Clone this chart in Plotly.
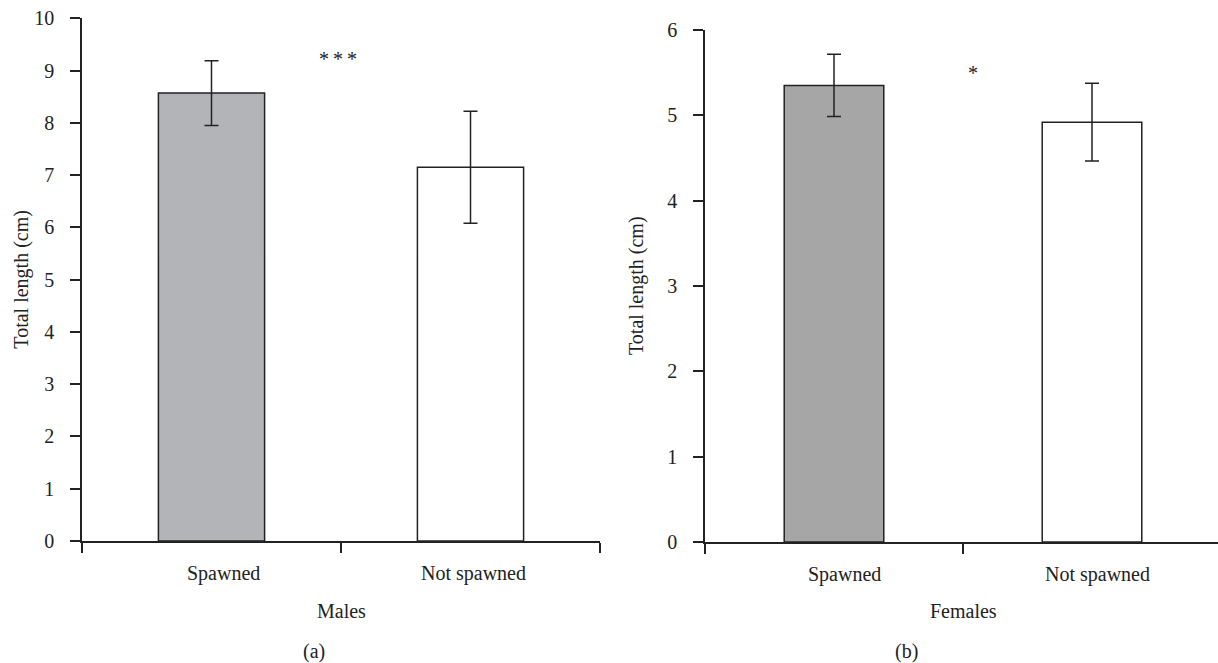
import plotly.graph_objects as go

# ---- data ----
groups = ["Spawned", "Not spawned"]
males_mean = [8.57, 7.15]
males_err = [0.62, 1.07]
females_mean = [5.35, 4.92]
females_err = [0.365, 0.455]
males_colors = ["#b3b4b7", "#ffffff"]
females_colors = ["#a6a6a6", "#ffffff"]
males_yticks = [0, 1, 2, 3, 4, 5, 6, 7, 8, 9, 10]
females_yticks = [0, 1, 2, 3, 4, 5, 6]
males_sig = "*\u2009*\u2009*"
females_sig = "*"
males_sig_pos = (0.99, 9.22)
females_sig_pos = (1.04, 5.50)
panel_titles = ["Males", "Females"]
panel_letters = ["(a)", "(b)"]
ytitle = "Total length (cm)"

W, H = 1218, 663
FONT = "Liberation Serif"
INK = "#222222"
FS = 20

xpos = [i + 0.5 for i in range(len(groups))]

fig = go.Figure()
fig.add_trace(go.Bar(
    x=xpos, y=males_mean, width=0.41,
    marker=dict(color=males_colors, line=dict(color=INK, width=1.5)),
    error_y=dict(type="data", array=males_err, visible=True, color=INK, thickness=1.5, width=7),
    xaxis="x", yaxis="y", showlegend=False, hoverinfo="skip"))
fig.add_trace(go.Bar(
    x=xpos, y=females_mean, width=0.386,
    marker=dict(color=females_colors, line=dict(color=INK, width=1.5)),
    error_y=dict(type="data", array=females_err, visible=True, color=INK, thickness=1.5, width=7),
    xaxis="x2", yaxis="y2", showlegend=False, hoverinfo="skip"))

ax_common = dict(showgrid=False, zeroline=False, showline=True, linecolor=INK, linewidth=1.5,
                 ticks="outside", ticklen=10, tickwidth=1.5, tickcolor=INK, automargin=False,
                 tickfont=dict(family=FONT, size=FS, color=INK))

x0L, x1L = 82 / W, 600 / W
x0R, x1R = 705 / W, 1.0
y0L, y1L = (H - 541) / H, (H - 18.3) / H
y0R, y1R = (H - 542) / H, (H - 30) / H

fig.update_layout(
    template="none",
    width=W, height=H, margin=dict(l=0, r=0, t=0, b=0, autoexpand=False),
    paper_bgcolor="white", plot_bgcolor="white",
    xaxis=dict(domain=[x0L, x1L], range=[0, 2], anchor="y", tickvals=[0, 1, 2],
               showticklabels=False, **ax_common),
    yaxis=dict(domain=[y0L, y1L], range=[0, 10], anchor="x", tickvals=males_yticks,
               ticklabelstandoff=12, **ax_common),
    xaxis2=dict(domain=[x0R, x1R], range=[0, (W - 705) / 258], anchor="y2", tickvals=[0, 1, 2],
                showticklabels=False, **ax_common),
    yaxis2=dict(domain=[y0R, y1R], range=[0, 6], anchor="x2", tickvals=females_yticks,
                ticklabelstandoff=12, **ax_common),
)

f = dict(family=FONT, size=FS, color=INK)
ann = []
label_shifts = {"x": [12, 3], "x2": [10, 5]}
for xa, ya in (("x", "y"), ("x2", "y2")):
    for xp, g, sh in zip(xpos, groups, label_shifts[xa]):
        ann.append(dict(x=xp, y=0, xref=xa, yref=ya, text=g, showarrow=False,
                        yshift=-32, xshift=sh, yanchor="middle", font=f))
# panel titles
ann.append(dict(x=1, xref="x", y=(H - 611) / H, yref="paper", text=panel_titles[0],
                showarrow=False, yanchor="middle", font=f))
ann.append(dict(x=1, xref="x2", y=(H - 611) / H, yref="paper", text=panel_titles[1],
                showarrow=False, yanchor="middle", font=f))
ann.append(dict(x=301 / W, xref="paper", y=(H - 651) / H, yref="paper", text=panel_letters[0],
                showarrow=False, yanchor="middle", font=f))
ann.append(dict(x=920 / W, xref="paper", y=(H - 651) / H, yref="paper", text=panel_letters[1],
                showarrow=False, yanchor="middle", font=f))
# y titles
ann.append(dict(x=22 / W, xref="paper", y=(y0L + y1L) / 2, yref="paper", text=ytitle,
                textangle=-90, showarrow=False, xanchor="center", yanchor="middle", font=f))
ann.append(dict(x=636 / W, xref="paper", y=(y0R + y1R) / 2, yref="paper", text=ytitle,
                textangle=-90, showarrow=False, xanchor="center", yanchor="middle", font=f))
# significance
ann.append(dict(x=males_sig_pos[0], y=males_sig_pos[1], xref="x", yref="y", text=males_sig,
                showarrow=False, yanchor="middle", font=f))
ann.append(dict(x=females_sig_pos[0], y=females_sig_pos[1], xref="x2", yref="y2", text=females_sig,
                showarrow=False, yanchor="middle", font=f))
fig.update_layout(annotations=ann)

fig.write_html("out.html", config={"displayModeBar": False},
               post_script="document.body.style.margin='0';document.body.style.overflow='hidden';")
